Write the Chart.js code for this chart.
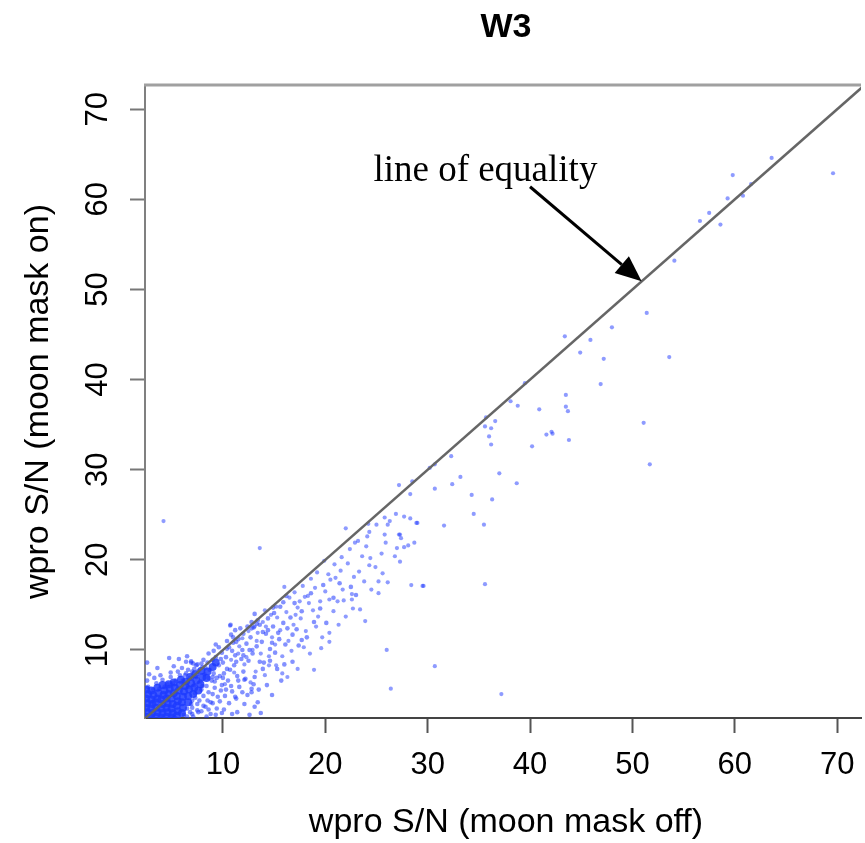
<!DOCTYPE html>
<html>
<head>
<meta charset="utf-8">
<title>W3</title>
<script src="https://cdn.jsdelivr.net/npm/chart.js@4.4.1/dist/chart.umd.min.js"></script>
<style>
  html, body { margin: 0; padding: 0; background: #fff; overflow: hidden; }
  #wrap { width: 865px; height: 843px; }
</style>
</head>
<body>
<div id="wrap"><canvas id="chart" width="865" height="843"></canvas></div>
<script>
// Titles and tick labels
const chartTitle = 'W3';
const xTitle = 'wpro S/N (moon mask off)';
const yTitle = 'wpro S/N (moon mask on)';
const noteText = 'line of equality';
const xTicks = [10, 20, 30, 40, 50, 60, 70];
const yTicks = [10, 20, 30, 40, 50, 60, 70];

// Axis ranges
const xRange = [2.39, 72.33];
const yRange = [2.45, 72.69];

// Line of equality and the arrow pointing at it (data units)
const equalityLine = [[0, 0], [80, 80]];
const arrowTail = [40.0, 61.4];
const arrowTip = [50.9, 50.9];
const notePos = [24.7, 62.0];

// Dense core of the cloud near the origin
const corePoints = [
  [2.5,2.6],[2.6,3.1],[2.5,3.6],[2.6,4.1],[2.5,4.6],[2.7,5.1],
  [3.0,2.5],[3.1,3.0],[3.0,3.5],[3.1,4.0],[3.0,4.5],[3.2,5.0],
  [3.5,2.6],[3.6,3.1],[3.5,3.6],[3.4,4.2],[3.6,4.6],[3.7,5.2],
  [4.0,2.5],[4.1,3.0],[4.0,3.5],[4.1,4.0],[4.0,4.5],[4.2,5.0],[4.3,5.5],
  [4.5,2.6],[4.6,3.1],[4.5,3.6],[4.6,4.1],[4.5,4.6],[4.7,5.1],[4.8,5.7],
  [5.0,2.5],[5.1,3.0],[5.0,3.5],[5.1,4.0],[5.0,4.6],[5.2,5.2],[5.3,5.8],
  [5.5,2.7],[5.6,3.2],[5.5,3.8],[5.6,4.3],[5.5,4.9],[5.7,5.5],[5.8,6.1],
  [6.0,3.0],[6.1,3.6],[6.0,4.2],[6.1,4.8],[6.2,5.4],[6.3,6.0],[6.4,6.5],
  [6.6,4.2],[6.6,4.9],[6.7,5.6],[6.9,6.3],
  [7.1,5.1],[7.2,5.8],[7.4,6.6],
  [7.6,5.5],[7.8,6.2],[8.0,7.0],[8.4,6.9],[8.5,7.6],[9.0,8.1],[9.3,8.6],
  [5.9,6.7],[6.8,7.0],[7.3,7.3],[7.9,7.7],[3.0,5.5],[2.5,5.6],[3.6,5.8],[4.1,6.1],[4.7,6.2],[5.2,6.4]
];

// Scatter around the diagonal at low S/N
const lowPoints = [
  [6.1,6.6],[6.3,7.2],[6.6,5.9],[6.8,6.9],[7.0,7.6],[7.2,6.1],[7.4,7.0],[7.3,5.2],[7.6,7.7],[7.8,6.5],
  [7.9,5.6],[8.0,8.1],[8.1,4.9],[8.2,7.3],[8.4,6.0],[8.5,8.6],[8.6,5.3],[8.7,7.8],[8.9,6.6],[8.8,4.2],
  [9.0,8.9],[9.1,7.4],[9.2,5.8],[9.3,9.2],[9.4,6.9],[9.5,4.8],[9.6,8.3],[9.7,7.1],[9.8,5.5],[9.9,9.7],
  [10.0,8.6],[10.1,7.4],[10.3,9.2],[10.5,6.6],[10.6,10.3],[10.7,7.8],[10.9,5.4],[11.0,10.8],[11.1,8.3],[11.2,9.4],
  [11.4,7.1],[11.5,11.2],[11.6,5.9],[11.8,9.0],[11.9,10.0],[12.0,11.8],[12.2,6.8],[12.3,10.7],[12.5,8.8],[12.7,11.4],
  [12.9,9.6],[13.0,12.5],[13.1,7.0],[13.3,10.4],[13.6,12.8],[13.8,10.9],[14.0,8.6],[14.2,11.8],[14.4,13.5],[14.6,10.1],
  [14.9,12.6],[15.1,9.7],[15.4,11.9],[15.6,14.8],[15.9,13.0],[16.1,10.6],[16.6,13.6],[17.2,12.3],[17.7,11.1],
  [8.3,3.7],[9.4,3.5],[10.6,4.1],[7.6,3.1],[6.9,4.0],[8.8,2.9],[11.3,4.6],[12.1,4.0],[13.4,4.2],[9.1,9.9],
  [10.4,11.0],[7.5,8.4],[6.6,7.8],[5.4,6.6],[5.8,7.2],[6.0,8.0],[5.1,6.3],[4.6,6.2],[4.3,5.9],[3.8,5.7],
  [3.2,5.6],[2.7,5.9],[3.5,6.3],[2.6,6.6],[4.9,7.0],[7.1,8.5],[8.1,8.9],[6.9,8.6],[3.9,7.2],[11.7,12.4],
  [12.8,13.1],[10.8,11.7],[9.6,10.3],[6.4,8.7],[6.9,8.75],[7.4,8.3],[7.9,8.5],[10.75,12.8],[12.8,12.4],[12.1,6.7],
  [12.8,5.7],[11.2,4.8],[13.1,3.7],[13.7,3.0],[9.0,4.1],[7.9,3.2],[4.75,9.1],[2.6,8.6],[9.9,3.0],[11.4,3.1],
  [12.6,2.8],[12.8,5.3],
  [5.3,2.5],[6.2,2.8],[7.1,2.6],[8.4,2.6],[9.3,2.8],[10.1,3.4],[10.9,2.9],[8.6,3.4],[9.7,4.3],[10.2,4.9],
  [10.8,6.0],[11.5,6.6],[11.9,5.3],[12.4,5.0],[13.0,6.2],[13.5,5.6],[14.3,6.1],[14.8,5.0],[13.9,7.9],[14.6,8.8],
  [15.3,7.9],[16.0,8.4],[16.8,8.7],[15.7,6.6],[12.0,7.6],[11.3,8.7],[10.4,7.9],[9.9,6.1],[9.2,6.5],[8.6,6.9],
  [8.0,6.0],[7.7,4.4],[8.5,4.4],[9.0,5.1],[10.3,5.6],[10.0,6.9],[10.9,9.9],[11.3,10.9],[12.4,12.6],[13.4,13.3],
  [13.9,12.0],[14.4,12.2],[15.0,14.1],[15.9,15.3],[16.3,12.4],[17.0,15.2],[12.6,10.0],[12.0,9.4],[13.6,8.7],[14.8,10.8],
  [15.5,11.2],[16.8,11.7],[17.4,10.5],[18.2,11.4],[18.9,13.1],[19.5,14.6],[20.1,13.0],[20.8,15.8],[21.4,17.4],[22.5,17.0],
  [23.0,16.1],[17.7,14.3],[18.6,16.3],[19.8,17.2],[16.2,16.0],[14.9,14.7],[13.3,12.9],[11.0,11.4],[9.8,9.0],[9.0,7.0],
  [8.3,8.0],[7.2,7.9],[6.4,7.4],[5.6,7.6],[4.9,7.5],[4.1,6.7],[3.3,6.9],[2.8,7.3],[3.6,8.0],[5.2,8.2],
  [5.7,9.0],[6.5,9.3],[8.6,9.6],[9.3,10.6],[11.2,12.2],[13.1,14.0],
  [6.5,2.6],[7.0,2.9],[7.0,3.6],[7.5,3.3],[7.5,4.0],[8.1,3.8],[7.0,4.4],[6.5,3.5],[6.8,3.1],[7.3,4.7]
];

// Scatter at mid S/N
const midPoints = [
  [26.9,25.1],[29.0,24.1],[25.8,24.7],[26.1,23.9],[24.2,24.0],[25.0,23.9],[24.3,23.1],[24.1,22.6],[25.8,22.8],[27.2,22.8],
  [27.4,22.4],[22.0,23.5],[22.4,21.2],[23.6,20.4],[24.4,20.2],[24.3,19.4],[24.9,19.2],[25.5,20.7],[27.0,21.3],[26.8,20.4],
  [29.6,17.1],[26.1,17.5],[25.2,17.6],[24.5,16.7],[25.2,16.3],[23.3,18.7],[22.8,18.1],[21.5,18.8],[21.0,18.0],[20.5,17.8],
  [19.9,19.9],[20.0,16.5],[19.5,15.4],[20.4,15.6],[21.2,15.4],[21.8,15.5],[22.6,15.6],[22.6,16.2],[23.4,14.5],[22.7,14.6],
  [22.0,13.7],[23.9,13.2],[21.7,16.7],[18.3,16.0],[18.4,15.2],[17.5,15.4],[17.1,13.9],[19.1,12.6],[20.4,11.9],[20.4,10.9],
  [18.9,7.8],[17.3,7.9],[15.2,8.3],[14.5,8.3],[15.8,7.4],[10.7,12.7],[16.0,17.0],[15.2,14.8],[14.1,14.4],[14.2,12.6],
  [13.4,11.9],[12.9,10.0],[14.5,9.3],[15.8,9.3],[4.2,24.3],[13.6,21.3],
  [16.5,15.8],[17.0,16.4],[17.8,17.1],[18.6,17.9],[16.2,14.2],[16.9,12.8],[17.6,13.5],[18.1,12.1],[18.8,14.4],[19.3,13.7],
  [19.7,11.4],[20.8,14.3],[21.3,12.8],[16.4,11.0],[15.6,12.2],[15.1,10.6],[17.9,10.3],[18.5,9.6],[19.6,10.2],[16.7,9.9],
  [14.8,11.4],[15.3,13.6],[14.7,13.9],[13.9,13.1],[13.1,12.6],[12.5,12.1],[13.3,11.0],[12.3,9.2],[13.7,9.6],[11.9,11.3],
  [11.6,10.4],[12.1,8.4],[13.2,7.6],[14.1,7.2],[16.3,7.0],[11.1,7.5],[10.8,8.9],[11.5,9.6],[10.4,10.1],[10.2,6.2],
  [12.7,6.4],[20.9,19.5],[21.6,20.3],[22.9,21.9],[23.2,22.1],[19.2,18.6],[18.0,15.9],[17.3,14.7],[24.0,21.5],[25.9,21.9],
  [26.3,24.3],[23.8,17.6],[25.6,18.5],[22.2,19.6],[20.3,18.4],[19.0,16.9]
];

// Sparse points at high S/N
const highPoints = [
  [63.6,64.6],[59.8,62.7],[69.6,62.9],[61.6,61.7],[60.8,60.4],[59.3,60.1],[57.5,58.5],[56.6,57.6],[58.6,57.2],[54.1,53.2],
  [51.4,47.4],[48.0,45.8],[47.2,42.3],[53.6,42.5],[46.9,39.5],[51.1,35.2],[51.7,30.6],
  [43.4,44.8],[45.9,44.4],[44.9,43.0],[39.5,39.6],[43.5,38.3],[38.8,37.1],[38.1,37.6],[40.9,36.7],[43.5,37.0],[43.7,36.5],
  [35.7,35.8],[36.6,35.4],[35.6,34.8],[36.2,34.6],[36.0,33.7],[36.2,32.8],[41.6,33.9],[42.1,34.2],[42.2,34.0],[43.8,33.3],
  [40.2,32.6],[32.3,31.5],[30.7,30.6],[30.2,30.2],[28.5,28.7],[27.2,28.3],[28.3,27.3],[33.2,29.2],[32.4,28.4],[37.0,29.6],
  [38.7,28.5],[30.7,27.9],[34.3,27.2],[36.3,26.7],[34.5,25.1],[27.7,24.8],[28.3,24.6],[31.6,23.8],[35.5,23.9],[28.9,24.1],
  [27.3,22.8],[28.7,21.9],[28.1,21.6],[27.7,21.4],[27.3,19.8],[35.6,17.3],[28.4,17.2],[29.5,17.1],[30.7,8.2],[37.2,5.1],
  [26.4,5.7],[26.0,10.0]
];

const toXY = list => list.map(p => ({ x: p[0], y: p[1] }));

const sansFont = '"Liberation Sans", Arial, Helvetica, sans-serif';
const serifFont = '"Liberation Serif", "Times New Roman", serif';

// Box top, tick labels, titles and the arrow annotation
const decorPlugin = {
    id: 'decor',
    afterDraw(chart) {
        const { ctx, chartArea: area, scales: { x, y } } = chart;
        ctx.save();

        // top edge of the box
        ctx.strokeStyle = '#a0a0a0';
        ctx.lineWidth = 3;
        ctx.beginPath();
        ctx.moveTo(area.left - 1, area.top);
        ctx.lineTo(area.right, area.top);
        ctx.stroke();

        ctx.fillStyle = '#000';
        ctx.font = '31px ' + sansFont;
        ctx.textBaseline = 'alphabetic';
        ctx.textAlign = 'center';

        // x tick labels
        xTicks.forEach(v => ctx.fillText(String(v), x.getPixelForValue(v), 774));

        // y tick labels, rotated like R's default
        yTicks.forEach(v => {
            ctx.save();
            ctx.translate(107, y.getPixelForValue(v));
            ctx.rotate(-Math.PI / 2);
            ctx.fillText(String(v), 0, 0);
            ctx.restore();
        });

        // axis titles
        ctx.font = '34px ' + sansFont;
        ctx.fillText(xTitle, 506, 832);
        ctx.save();
        ctx.translate(48, (area.top + area.bottom) / 2);
        ctx.rotate(-Math.PI / 2);
        ctx.fillText(yTitle, 0, 0);
        ctx.restore();

        // main title
        ctx.font = 'bold 34px ' + sansFont;
        ctx.fillText(chartTitle, 506, 37);

        // annotation text
        ctx.font = '37px ' + serifFont;
        ctx.textAlign = 'left';
        ctx.fillText(noteText, x.getPixelForValue(notePos[0]), y.getPixelForValue(notePos[1]));

        // arrow
        const tx = x.getPixelForValue(arrowTail[0]), ty = y.getPixelForValue(arrowTail[1]);
        const hx = x.getPixelForValue(arrowTip[0]), hy = y.getPixelForValue(arrowTip[1]);
        const ang = Math.atan2(hy - ty, hx - tx);
        const headLen = 26, headHalf = 11;
        const bx = hx - headLen * Math.cos(ang), by = hy - headLen * Math.sin(ang);
        ctx.strokeStyle = '#000';
        ctx.lineWidth = 3;
        ctx.beginPath();
        ctx.moveTo(tx, ty);
        ctx.lineTo(bx, by);
        ctx.stroke();
        ctx.fillStyle = '#000';
        ctx.beginPath();
        ctx.moveTo(hx, hy);
        ctx.lineTo(bx + headHalf * Math.sin(ang), by - headHalf * Math.cos(ang));
        ctx.lineTo(bx - headHalf * Math.sin(ang), by + headHalf * Math.cos(ang));
        ctx.closePath();
        ctx.fill();

        ctx.restore();
    }
};

function fixedTicks(values) {
    return scale => { scale.ticks = values.map(v => ({ value: v })); };
}

const dotColor = 'rgba(30, 55, 255, 0.5)';

const ctx = document.getElementById('chart').getContext('2d');
new Chart(ctx, {
    type: 'scatter',
    data: {
        datasets: [
            {
                type: 'line',
                label: 'line of equality',
                data: toXY(equalityLine),
                borderColor: '#666666',
                borderWidth: 2.5,
                pointRadius: 0,
                fill: false
            },
            {
                label: 'high',
                data: toXY(highPoints),
                backgroundColor: dotColor,
                borderWidth: 0,
                pointRadius: 2.1
            },
            {
                label: 'mid',
                data: toXY(midPoints),
                backgroundColor: dotColor,
                borderWidth: 0,
                pointRadius: 2.1
            },
            {
                label: 'low',
                data: toXY(lowPoints),
                backgroundColor: 'rgba(30, 55, 255, 0.55)',
                borderWidth: 0,
                pointRadius: 2.3
            },
            {
                label: 'core',
                data: toXY(corePoints),
                backgroundColor: 'rgba(30, 60, 255, 0.85)',
                borderWidth: 0,
                pointRadius: 4
            }
        ]
    },
    options: {
        responsive: false,
        animation: false,
        devicePixelRatio: 1,
        layout: { padding: { left: 130, right: 0, top: 85, bottom: 110 } },
        plugins: {
            legend: { display: false },
            tooltip: { enabled: false },
            title: { display: false }
        },
        scales: {
            x: {
                type: 'linear',
                min: xRange[0],
                max: xRange[1],
                afterBuildTicks: fixedTicks(xTicks),
                ticks: { display: false },
                grid: { drawOnChartArea: false, drawTicks: true, tickLength: 15, tickWidth: 2, tickColor: '#555' },
                border: { display: true, color: '#444', width: 2 }
            },
            y: {
                type: 'linear',
                min: yRange[0],
                max: yRange[1],
                afterBuildTicks: fixedTicks(yTicks),
                ticks: { display: false },
                grid: { drawOnChartArea: false, drawTicks: true, tickLength: 15, tickWidth: 2, tickColor: '#777' },
                border: { display: true, color: '#808080', width: 2 }
            }
        }
    },
    plugins: [decorPlugin]
});
</script>
</body>
</html>
